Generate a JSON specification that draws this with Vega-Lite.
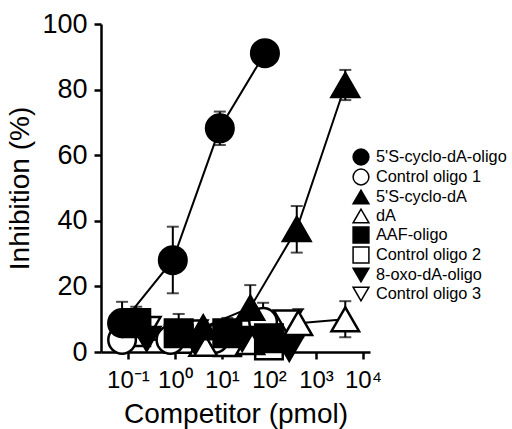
{
  "$schema": "https://vega.github.io/schema/vega-lite/v6.json",
  "width": 269,
  "height": 328,
  "autosize": {"type": "none"},
  "padding": {"left": 101, "top": 24, "right": 142, "bottom": 77},
  "background": "white",
  "config": {
    "view": {"stroke": null},
    "font": "Liberation Sans",
    "axis": {"domainColor": "black", "domainWidth": 2.5, "tickColor": "black", "tickWidth": 2.5, "tickSize": 7, "grid": false, "labelColor": "black", "titleColor": "black", "titleFontWeight": "normal", "labelFont": "Liberation Sans", "titleFont": "Liberation Sans"},
    "legend": {"padding": 0, "rowPadding": -4.7, "labelFontSize": 16.3, "labelFont": "Liberation Sans", "labelColor": "black", "labelOffset": 6, "symbolSize": 250, "symbolStrokeWidth": 1.5}
  },
  "data": {
    "values": [
      {"series": "Control oligo 3", "conc": 0.25, "inh": 7},
      {"series": "Control oligo 3", "conc": 2.5, "inh": 6},
      {"series": "Control oligo 3", "conc": 25, "inh": 6},
      {"series": "Control oligo 3", "conc": 250, "inh": 9, "lo": 6, "hi": 12},
      {"series": "Control oligo 2", "conc": 0.15, "inh": 6},
      {"series": "Control oligo 2", "conc": 1.2, "inh": 4},
      {"series": "Control oligo 2", "conc": 13, "inh": 3},
      {"series": "Control oligo 2", "conc": 100, "inh": 2},
      {"series": "Control oligo 1", "conc": 0.075, "inh": 3.7},
      {"series": "Control oligo 1", "conc": 0.8, "inh": 3.7},
      {"series": "Control oligo 1", "conc": 7, "inh": 4},
      {"series": "Control oligo 1", "conc": 75, "inh": 9.2, "lo": 4, "hi": 15},
      {"series": "dA", "conc": 4, "inh": 2.5},
      {"series": "dA", "conc": 40, "inh": 3},
      {"series": "dA", "conc": 420, "inh": 8.8, "lo": 4.5, "hi": 13.1},
      {"series": "dA", "conc": 4200, "inh": 10, "lo": 4.5, "hi": 15.5},
      {"series": "8-oxo-dA-oligo", "conc": 0.25, "inh": 4},
      {"series": "8-oxo-dA-oligo", "conc": 2.7, "inh": 3},
      {"series": "8-oxo-dA-oligo", "conc": 27, "inh": 4},
      {"series": "8-oxo-dA-oligo", "conc": 270, "inh": 1},
      {"series": "AAF-oligo", "conc": 0.15, "inh": 8.8, "lo": 3.8, "hi": 13.8},
      {"series": "AAF-oligo", "conc": 1.2, "inh": 5.7, "lo": 0, "hi": 11.6},
      {"series": "AAF-oligo", "conc": 13, "inh": 5.7, "lo": 1, "hi": 10.4},
      {"series": "AAF-oligo", "conc": 100, "inh": 4.2},
      {"series": "5'S-cyclo-dA", "conc": 4, "inh": 7.5},
      {"series": "5'S-cyclo-dA", "conc": 40, "inh": 13.5, "lo": 6.6, "hi": 20.4},
      {"series": "5'S-cyclo-dA", "conc": 390, "inh": 37.5, "lo": 30.3, "hi": 44.5},
      {"series": "5'S-cyclo-dA", "conc": 4200, "inh": 81.4, "lo": 76.8, "hi": 86},
      {"series": "5'S-cyclo-dA-oligo", "conc": 0.075, "inh": 8.8, "lo": 2.3, "hi": 15.3},
      {"series": "5'S-cyclo-dA-oligo", "conc": 0.9, "inh": 28, "lo": 17.9, "hi": 38.2},
      {"series": "5'S-cyclo-dA-oligo", "conc": 9, "inh": 68.2, "lo": 63.1, "hi": 73.3},
      {"series": "5'S-cyclo-dA-oligo", "conc": 82, "inh": 91.1}
    ]
  },
  "encoding": {
    "x": {"field": "conc", "type": "quantitative",
      "scale": {"type": "log", "domain": [0.0267, 14100], "nice": false},
      "axis": {"values": [0.1, 1, 10, 100, 1000, 10000], "title": "Competitor (pmol)", "labelFontSize": 24, "titleFontSize": 28, "labelPadding": 9, "titlePadding": 8,
        "labelExpr": "datum.value < 0.5 ? '10⁻¹' : datum.value < 5 ? '10⁰' : datum.value < 50 ? '10¹' : datum.value < 500 ? '10²' : datum.value < 5000 ? '10³' : '10⁴'"}}
  },
  "layer": [
    {
      "mark": {"type": "line", "color": "black", "strokeWidth": 2},
      "encoding": {
        "y": {"field": "inh", "type": "quantitative", "scale": {"domain": [0, 100], "nice": false},
          "axis": {"values": [0, 20, 40, 60, 80, 100], "title": "Inhibition (%)", "labelFontSize": 27, "titleFontSize": 28, "labelPadding": 7, "titlePadding": 7}},
        "detail": {"field": "series", "type": "nominal"}
      }
    },
    {
      "transform": [{"filter": "isValid(datum.hi)"}],
      "mark": {"type": "rule", "color": "black", "strokeWidth": 2},
      "encoding": {
        "y": {"field": "lo", "type": "quantitative"},
        "y2": {"field": "hi"}
      }
    },
    {
      "transform": [{"filter": "isValid(datum.hi)"}],
      "mark": {"type": "tick", "orient": "horizontal", "color": "black", "thickness": 2, "size": 12},
      "encoding": {"y": {"field": "hi", "type": "quantitative"}}
    },
    {
      "transform": [{"filter": "isValid(datum.hi)"}],
      "mark": {"type": "tick", "orient": "horizontal", "color": "black", "thickness": 2, "size": 12},
      "encoding": {"y": {"field": "lo", "type": "quantitative"}}
    },
    {
      "mark": {"type": "point", "filled": true, "strokeWidth": 2.5, "opacity": 1, "fillOpacity": 1, "strokeOpacity": 1, "size": 760},
      "encoding": {
        "y": {"field": "inh", "type": "quantitative"},
        "shape": {"field": "series", "type": "nominal",
          "scale": {"domain": ["5'S-cyclo-dA-oligo", "Control oligo 1", "5'S-cyclo-dA", "dA", "AAF-oligo", "Control oligo 2", "8-oxo-dA-oligo", "Control oligo 3"],
            "range": ["circle", "circle", "triangle-up", "triangle-up", "square", "square", "triangle-down", "triangle-down"]},
          "legend": {"title": null, "orient": "none", "legendX": 251, "legendY": 124}},
        "fill": {"field": "series", "type": "nominal",
          "scale": {"domain": ["5'S-cyclo-dA-oligo", "Control oligo 1", "5'S-cyclo-dA", "dA", "AAF-oligo", "Control oligo 2", "8-oxo-dA-oligo", "Control oligo 3"],
            "range": ["black", "white", "black", "white", "black", "white", "black", "white"]},
          "legend": {"title": null, "orient": "none", "legendX": 251, "legendY": 124}},
        "stroke": {"field": "series", "type": "nominal",
          "scale": {"domain": ["5'S-cyclo-dA-oligo", "Control oligo 1", "5'S-cyclo-dA", "dA", "AAF-oligo", "Control oligo 2", "8-oxo-dA-oligo", "Control oligo 3"],
            "range": ["black", "black", "black", "black", "black", "black", "black", "black"]},
          "legend": {"title": null, "orient": "none", "legendX": 251, "legendY": 124}}
      }
    }
  ]
}
